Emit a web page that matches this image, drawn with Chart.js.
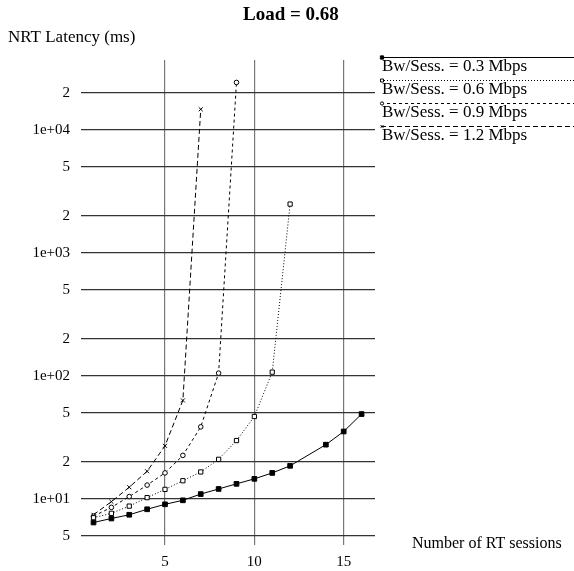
<!DOCTYPE html>
<html>
<head>
<meta charset="utf-8">
<script src="https://cdn.jsdelivr.net/npm/chart.js@4/dist/chart.umd.min.js"></script>
<style>
html,body{margin:0;padding:0;background:#fff;}
#wrap{width:574px;height:571px;position:relative;}
</style>
</head>
<body>
<div id="wrap"><canvas id="c" width="574" height="571"></canvas></div>
<script>
const chartTitle = "Load = 0.68";
const yAxisTitle = "NRT Latency (ms)";
const xAxisTitle = "Number of RT sessions";
const seriesNames = ["Bw/Sess. = 0.3 Mbps", "Bw/Sess. = 0.6 Mbps", "Bw/Sess. = 0.9 Mbps", "Bw/Sess. = 1.2 Mbps"];

const sessions03 = [1, 2, 3, 4, 5, 6, 7, 8, 9, 10, 11, 12, 14, 15, 16];
const latency03  = [6.4, 6.9, 7.4, 8.2, 9.0, 9.7, 10.9, 12.0, 13.2, 14.5, 16.2, 18.5, 27.5, 35.2, 48.8];
const sessions06 = [1, 2, 3, 4, 5, 6, 7, 8, 9, 10, 11, 12];
const latency06  = [7.0, 7.6, 8.7, 10.2, 11.9, 14.0, 16.5, 20.9, 29.7, 46.6, 107, 2490];
const sessions09 = [1, 2, 3, 4, 5, 6, 7, 8, 9];
const latency09  = [7.2, 8.5, 10.4, 12.9, 16.2, 22.5, 38.4, 105, 24300];
const sessions12 = [1, 2, 3, 4, 5, 6, 7];
const latency12  = [7.4, 9.45, 12.4, 16.7, 26.9, 63, 14700];

const xTicks = [5, 10, 15];
const yTicks = [5, 10, 20, 50, 100, 200, 500, 1000, 2000, 5000, 10000, 20000];

function pts(xs, ys){ return xs.map((x,i)=>({x:x, y:ys[i]})); }

const styles = [
  {dash: [], pointStyle: 'rect', fill: '#000', radius: 3.3},
  {dash: [1, 2], pointStyle: 'rect', fill: '#fff', radius: 3.0},
  {dash: [3, 3], pointStyle: 'circle', fill: '#fff', radius: 2.3},
  {dash: [5, 3], pointStyle: 'crossRot', fill: '#fff', radius: 2.8}
];

const allX = [sessions03, sessions06, sessions09, sessions12];
const allY = [latency03, latency06, latency09, latency12];

const datasets = seriesNames.map((n, i) => ({
  label: n,
  data: pts(allX[i], allY[i]),
  borderColor: '#000',
  borderWidth: 1,
  borderDash: styles[i].dash,
  pointStyle: styles[i].pointStyle,
  pointRadius: styles[i].radius,
  pointBackgroundColor: styles[i].fill,
  pointBorderColor: '#000',
  pointBorderWidth: 1,
  tension: 0,
  fill: false
}));

const serif = "'Liberation Serif', 'DejaVu Serif', serif";

const textPlugin = {
  id: 'texts',
  afterDraw(chart){
    const ctx = chart.ctx;
    ctx.save();
    ctx.fillStyle = '#000';
    ctx.textBaseline = 'alphabetic';
    ctx.font = "bold 19px " + serif;
    ctx.textAlign = 'left';
    ctx.fillText(chartTitle, 243, 19.5);
    ctx.font = "17px " + serif;
    ctx.fillText(yAxisTitle, 8, 42);
    ctx.font = "16px " + serif;
    ctx.fillText(xAxisTitle, 412, 548);
    // legend
    const ys = [57.5, 80.5, 103.5, 126.5];
    ctx.font = "17px " + serif;
    ys.forEach((y, i) => {
      ctx.save();
      ctx.strokeStyle = '#000';
      ctx.lineWidth = 1;
      ctx.setLineDash(styles[i].dash);
      ctx.beginPath();
      ctx.moveTo(381, y);
      ctx.lineTo(574, y);
      ctx.stroke();
      ctx.restore();
      ctx.save();
      ctx.fillStyle = styles[i].fill;
      ctx.strokeStyle = '#000';
      ctx.lineWidth = 1;
      Chart.helpers.drawPoint(ctx, {pointStyle: styles[i].pointStyle, radius: styles[i].radius * 0.7, borderWidth: 1}, 382, y);
      ctx.restore();
      ctx.fillStyle = '#000';
      ctx.fillText(seriesNames[i], 382, y + 13.6);
    });
    ctx.restore();
  }
};

function fmtY(v){
  const l = Math.log10(v);
  if (Math.abs(l - Math.round(l)) < 1e-9) {
    const e = Math.round(l);
    return "1e+" + (e < 10 ? "0" + e : "" + e);
  }
  const e = Math.floor(l);
  return String(Math.round(v / Math.pow(10, e)));
}

new Chart(document.getElementById('c'), {
  type: 'line',
  data: { datasets: datasets },
  options: {
    responsive: false,
    animation: false,
    devicePixelRatio: 1,
    layout: { padding: { top: 60, right: 199, bottom: 0, left: 0 } },
    plugins: { legend: { display: false }, title: { display: false }, tooltip: { enabled: false } },
    scales: {
      x: {
        type: 'linear',
        min: 0.3, max: 16.75,
        border: { display: false },
        grid: { color: '#777', lineWidth: 1.2, drawTicks: false },
        ticks: { color: '#000', font: { family: serif, size: 15 }, padding: 8, callback: v => String(v) },
        afterBuildTicks: s => { s.ticks = xTicks.map(v => ({value: v})); },
        afterFit: s => { s.height = 26; }
      },
      y: {
        type: 'logarithmic',
        min: 4.2, max: 37000,
        border: { display: false },
        grid: { color: '#333', lineWidth: 1.2, drawTicks: false },
        ticks: { color: '#000', font: { family: serif, size: 15 }, padding: 11, callback: v => fmtY(v) },
        afterBuildTicks: s => { s.ticks = yTicks.map(v => ({value: v})); },
        afterFit: s => { s.width = 81; }
      }
    }
  },
  plugins: [textPlugin]
});
</script>
</body>
</html>
